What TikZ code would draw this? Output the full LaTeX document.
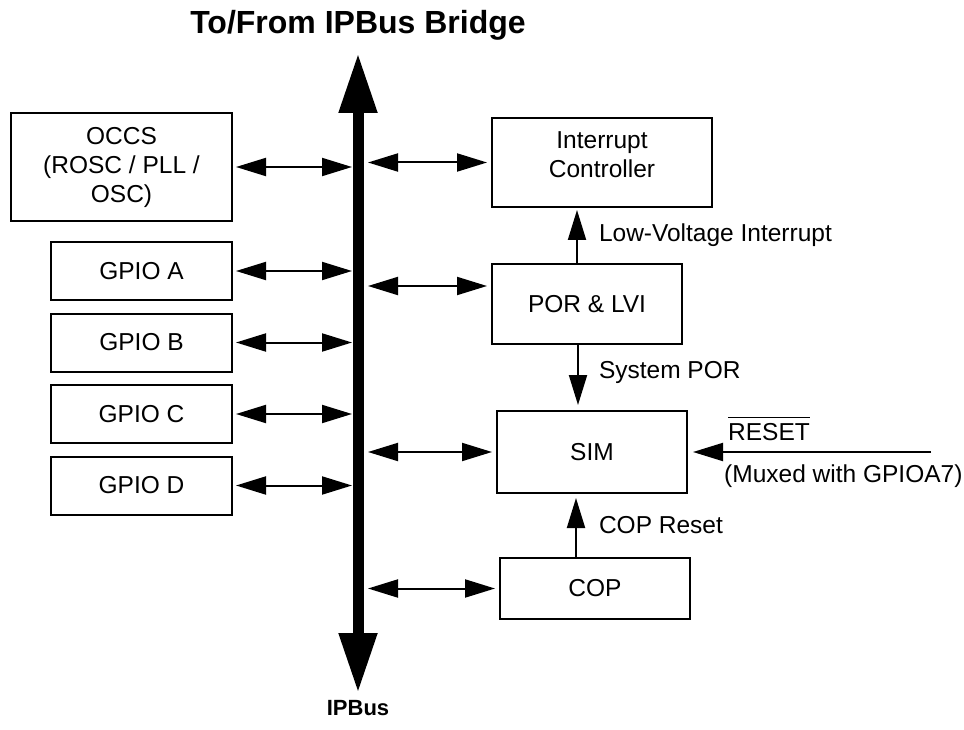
\documentclass[tikz,border=0pt]{standalone}
\usepackage{fontspec}
\setmainfont{Liberation Sans}
\usetikzlibrary{arrows.meta, positioning}

\newcommand{\barsig}[1]{{\setbox0\hbox{#1}\vbox{\hrule width\wd0 height 1.8pt\kern5pt\box0}}}

\begin{document}
\begin{tikzpicture}[
    x=1pt, y=-1pt,
    node distance=11.5pt,
    box/.style={rectangle, draw=black, line width=2pt, inner sep=0pt, align=center, font=\fontsize{24.5}{29}\selectfont},
    gpio/.style={box, minimum width=181pt, minimum height=58pt},
    rbox/.style={box, minimum width=190pt},
    lbl/.style={inner sep=0pt, font=\fontsize{24.5}{29}\selectfont},
    title/.style={inner sep=0pt, font=\fontsize{32}{38}\selectfont\bfseries},
    arrow/.style={->, >={Triangle[length=30pt, width=18pt]}, line width=2pt},
    biarrow/.style={arrow, <->},
    bus/.style={<->, >={Triangle[length=60pt, width=36pt]}, line width=11pt}
]
\useasboundingbox (0,0) rectangle (964,730);

% IPBus
\coordinate (bustop) at (358,53);
\coordinate (busbot) at (358,693);
\draw[bus] (busbot) -- (bustop);
\node[title, above=13pt of bustop] (ttl) {To/From IPBus Bridge};
\node[title, font=\fontsize{22}{26}\selectfont\bfseries, below=7pt of busbot] (ipbus) {IPBus};

% Left blocks
\node[box, minimum width=221pt, minimum height=108pt] (occs) at (121.5,167) {OCCS\\(ROSC / PLL /\\OSC)};
\node[gpio, below left=19pt and 0pt of occs.south east] (gpioa) {GPIO A};
\node[gpio, below=of gpioa] (gpiob) {GPIO B};
\node[gpio, below=of gpiob] (gpioc) {GPIO C};
\node[gpio, below=of gpioc] (gpiod) {GPIO D};

% Right blocks
\node[box, minimum width=220pt, minimum height=89pt] (intc) at (602,162.5) {Interrupt\\Controller\\[-13pt]\mbox{}};
\node[rbox, minimum height=80pt, below right=55pt and 0pt of intc.south west] (porlvi) {POR \& LVI};
\node[rbox, minimum height=82pt, below right=65pt and 5pt of porlvi.south west] (sim) {SIM};
\node[rbox, minimum height=61pt, below right=63pt and 3pt of sim.south west] (cop) {COP};

% Bus arrows
\foreach \n in {occs, gpioa, gpiob, gpioc, gpiod}
    \draw[biarrow, shorten <=3pt, shorten >=6pt] (\n.east) -- (\n.east -| bustop);
\foreach \n in {intc, sim, cop}
    \draw[biarrow, shorten <=10pt, shorten >=4pt] (\n.west -| bustop) -- (\n.west);
\coordinate (porin) at ([yshift=18pt]porlvi.west);
\draw[biarrow, shorten <=10pt, shorten >=4pt] (porin -| bustop) -- (porin);

% Signals
\coordinate (lvo) at ([xshift=-10pt]porlvi.north);
\draw[arrow, shorten >=2pt] (lvo) -- (lvo |- intc.south) node[lbl, midway, right=21pt] {Low-Voltage Interrupt};
\coordinate (sysp) at ([xshift=-9pt]porlvi.south);
\draw[arrow, shorten >=5pt] (sysp) -- (sysp |- sim.north) node[lbl, pos=0.43, right=20pt] {System POR};
\coordinate (copr) at ([xshift=-19pt]cop.north);
\draw[arrow, shorten >=4pt] (copr) -- (copr |- sim.south) node[lbl, midway, right=22pt] {COP Reset};

% Reset pin
\coordinate[right=243pt of sim.east] (rstin);
\draw[arrow, shorten >=5pt] (rstin) -- (sim.east);
\node[lbl, above right=11pt and 40pt of sim.east] (rstlbl) {\barsig{RESET}};
\node[lbl, below right=13pt and 36pt of sim.east] (muxlbl) {(Muxed with GPIOA7)};

\end{tikzpicture}
\end{document}
